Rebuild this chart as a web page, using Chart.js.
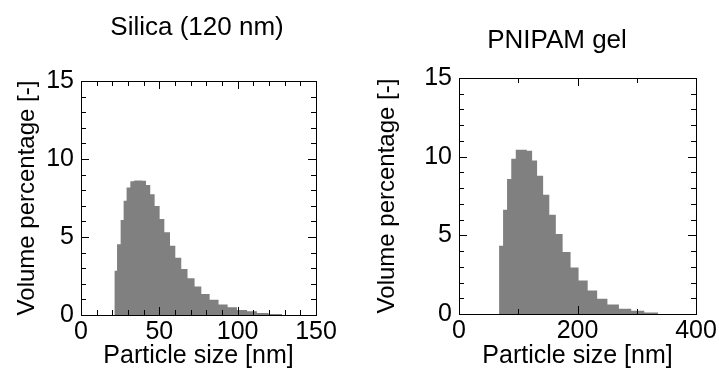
<!DOCTYPE html>
<html>
<head>
<meta charset="utf-8">
<script src="https://cdn.jsdelivr.net/npm/chart.js@4.4.1/dist/chart.umd.min.js"></script>
<style>
  html, body { margin: 0; padding: 0; background: #fff; }
  #wrap { position: relative; width: 719px; height: 376px; }
  .box { position: absolute; top: 0; height: 376px; }
</style>
</head>
<body>
<div id="wrap">
  <div class="box" style="left:0;width:360px"><canvas id="silica"></canvas></div>
  <div class="box" style="left:360px;width:359px"><canvas id="pnipam"></canvas></div>
</div>
<script>
// Histogram bins: bin edges in nm, volume % per bin
var silicaEdges = [21.3, 23.0, 25.3, 27.2, 29.1, 31.5, 34.0, 36.5, 38.9, 41.5, 44.2, 47.0,
  50.2, 53.2, 56.8, 60.2, 64.0, 68.0, 72.5, 76.8, 82.1, 87.8, 93.6, 99.6, 106.0, 112.3,
  119.7, 128.3];
var silicaValues = [2.84, 4.53, 6.09, 7.33, 8.18, 8.58, 8.62, 8.62, 8.60, 8.33, 7.74, 6.99,
  6.15, 5.30, 4.44, 3.67, 2.95, 2.35, 1.82, 1.35, 0.98, 0.68, 0.49, 0.32, 0.24, 0.13, 0.06];

var pnipamEdges = [67.6, 74.4, 81.1, 88.2, 95.8, 105.1, 114.4, 123.4, 131.8, 142.0, 152.4,
  163.4, 174.9, 188.3, 201.8, 217.2, 233.2, 250.5, 269.9, 290.7, 312.7, 336.3];
var pnipamValues = [4.34, 6.63, 8.58, 9.87, 10.44, 10.44, 10.38, 9.75, 8.79, 7.58, 6.31,
  5.08, 3.94, 2.96, 2.13, 1.49, 0.97, 0.60, 0.34, 0.21, 0.09];

var silicaXTicks = [0, 50, 100, 150];
var pnipamXTicks = [0, 200, 400];
var yTicks = [0, 5, 10, 15];

var FONT = "'Liberation Sans', Arial, sans-serif";
var BAR_GRAY = '#808080';

// turn edges + values into a stepped outline
function stepPoints(edges, values) {
  var pts = [{x: edges[0], y: 0}];
  for (var i = 0; i < values.length; i++) {
    pts.push({x: edges[i], y: values[i]});
  }
  pts.push({x: edges[edges.length - 1], y: 0});
  return pts;
}

// frame around the plot with inward ticks on all four sides, plus the panel title
var frameTicks = {
  id: 'frameTicks',
  afterDatasetsDraw: function(chart, args, opts) {
    var ctx = chart.ctx, a = chart.chartArea;
    var xs = chart.scales.x, ys = chart.scales.y;
    ctx.save();
    ctx.strokeStyle = '#000';
    ctx.lineWidth = 1;
    ctx.beginPath();
    var v, p, len;
    for (v = xs.min; v <= xs.max + 1e-6; v += opts.xMinor) {
      p = Math.round(xs.getPixelForValue(v)) + 0.5;
      len = (Math.abs(v % opts.xMajor) < 1e-6) ? opts.majorLen : opts.minorLen;
      ctx.moveTo(p, a.bottom); ctx.lineTo(p, a.bottom - len);
      ctx.moveTo(p, a.top); ctx.lineTo(p, a.top + len);
    }
    for (v = ys.min; v <= ys.max + 1e-6; v += opts.yMinor) {
      p = Math.round(ys.getPixelForValue(v)) + 0.5;
      len = (Math.abs(v % opts.yMajor) < 1e-6) ? opts.majorLen : opts.minorLen;
      ctx.moveTo(a.left, p); ctx.lineTo(a.left + len, p);
      ctx.moveTo(a.right, p); ctx.lineTo(a.right - len, p);
    }
    ctx.stroke();
    ctx.strokeRect(Math.round(a.left) + 0.5, Math.round(a.top) + 0.5,
      Math.round(a.right - a.left), Math.round(a.bottom - a.top));

    ctx.fillStyle = '#000';
    ctx.font = '26px ' + FONT;
    ctx.textAlign = 'center';
    ctx.textBaseline = 'middle';
    ctx.fillText(opts.title, opts.titleX, opts.titleY);
    ctx.restore();
  }
};

function makeChart(id, o) {
  return new Chart(document.getElementById(id), {
    type: 'line',
    data: {
      datasets: [{
        data: stepPoints(o.edges, o.values),
        stepped: true,
        fill: 'origin',
        backgroundColor: BAR_GRAY,
        borderColor: BAR_GRAY,
        borderWidth: 0,
        pointRadius: 0
      }]
    },
    plugins: [frameTicks],
    options: {
      responsive: true,
      maintainAspectRatio: false,
      animation: false,
      layout: { padding: { left: 0, right: o.padRight, top: o.padTop, bottom: 0 } },
      plugins: {
        legend: { display: false },
        tooltip: { enabled: false },
        title: { display: false },
        frameTicks: {
          title: o.title, titleX: o.titleX, titleY: o.titleY,
          xMinor: o.xMinor, xMajor: o.xMajor, yMinor: 1, yMajor: 5,
          majorLen: 8, minorLen: 5
        }
      },
      scales: {
        x: {
          type: 'linear',
          min: o.xTicks[0],
          max: o.xTicks[o.xTicks.length - 1],
          afterBuildTicks: function(s) { s.ticks = o.xTicks.map(function(t) { return {value: t}; }); },
          afterFit: function(s) { s.height = o.xHeight; },
          grid: { display: false, drawTicks: false },
          border: { display: false },
          ticks: {
            color: '#000', padding: 2, maxRotation: 0,
            font: { family: FONT, size: 25 }
          },
          title: {
            display: true,
            text: 'Particle size [nm]',
            color: '#000',
            font: { family: FONT, size: 25 },
            padding: { top: 0, bottom: 5 }
          }
        },
        y: {
          min: 0,
          max: 15,
          afterBuildTicks: function(s) { s.ticks = yTicks.map(function(t) { return {value: t}; }); },
          afterFit: function(s) { s.width = o.yWidth; },
          grid: { display: false, drawTicks: false },
          border: { display: false },
          ticks: {
            color: '#000', padding: 7,
            font: { family: FONT, size: 25 }
          },
          title: {
            display: true,
            text: 'Volume percentage [-]',
            color: '#000',
            font: { family: FONT, size: 24 },
            padding: { top: 13, bottom: 0 }
          }
        }
      }
    }
  });
}

makeChart('silica', {
  title: 'Silica (120 nm)', titleX: 197, titleY: 28,
  edges: silicaEdges, values: silicaValues, xTicks: silicaXTicks,
  xMinor: 10, xMajor: 50,
  padRight: 44, padTop: 81, xHeight: 61, yWidth: 81
});

makeChart('pnipam', {
  title: 'PNIPAM gel', titleX: 197, titleY: 41,
  edges: pnipamEdges, values: pnipamValues, xTicks: pnipamXTicks,
  xMinor: 100, xMajor: 200,
  padRight: 23, padTop: 78, xHeight: 62, yWidth: 99
});
</script>
</body>
</html>
